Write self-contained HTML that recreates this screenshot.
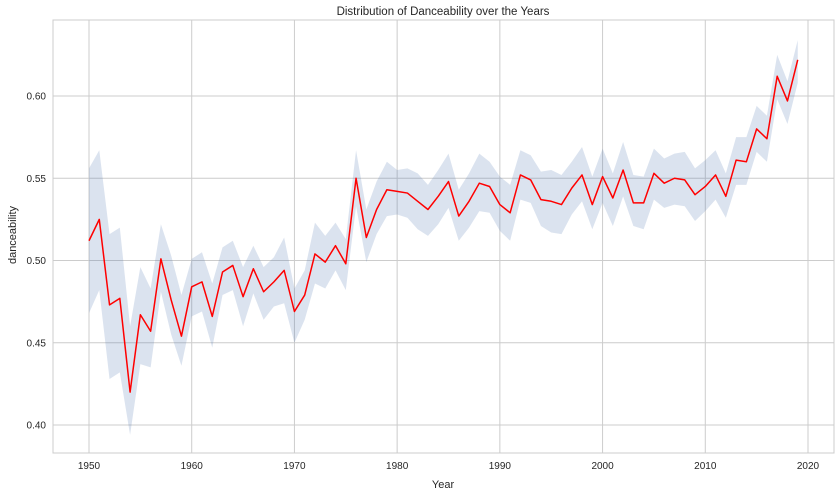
<!DOCTYPE html>
<html><head><meta charset="utf-8"><style>
body{margin:0;background:#fff;font-family:"Liberation Sans",sans-serif}
svg text{font-family:"Liberation Sans",sans-serif;fill:#262626}
</style></head><body>
<svg id="c" width="840" height="496" xmlns="http://www.w3.org/2000/svg">
<text x="443" y="15" font-size="11.5" text-anchor="middle">Distribution of Danceability over the Years</text>
<text x="443" y="488" font-size="11" text-anchor="middle">Year</text>
<text transform="translate(16,235) rotate(-90)" font-size="11" text-anchor="middle">danceability</text>
<g id="grid"></g><g id="band"></g><g id="line"></g><g id="ticks"></g>
<rect x="53" y="20" width="781" height="433" fill="none" stroke="#ccc" stroke-width="1"/>
</svg>
<script>
const years=[];for(let y=1950;y<=2019;y++)years.push(y);
const means=[.512,.525,.473,.477,.420,.467,.457,.501,.476,.454,.484,.487,.466,.493,.497,.478,.495,.481,.487,.494,.469,.479,.504,.499,.509,.498,.550,.514,.531,.543,.542,.541,.536,.531,.539,.548,.527,.536,.547,.545,.534,.529,.552,.549,.537,.536,.534,.544,.552,.534,.551,.538,.555,.535,.535,.553,.547,.550,.549,.540,.545,.552,.539,.561,.560,.580,.574,.612,.597,.622];
const upper=[.556,.567,.516,.520,.460,.496,.483,.522,.503,.479,.501,.505,.486,.508,.512,.496,.509,.496,.502,.514,.483,.494,.523,.515,.523,.513,.567,.531,.548,.560,.555,.556,.553,.546,.555,.565,.543,.553,.565,.560,.551,.546,.567,.564,.554,.555,.552,.560,.569,.551,.568,.553,.572,.552,.551,.568,.562,.565,.566,.556,.561,.567,.553,.575,.575,.594,.588,.625,.609,.634];
const lower=[.468,.482,.428,.432,.394,.437,.435,.481,.455,.436,.466,.469,.447,.479,.482,.460,.480,.464,.472,.474,.450,.464,.486,.483,.494,.482,.533,.499,.516,.527,.528,.526,.519,.515,.522,.532,.512,.520,.530,.529,.518,.512,.537,.535,.521,.517,.516,.528,.536,.519,.535,.521,.539,.521,.519,.537,.532,.534,.533,.524,.530,.537,.526,.546,.546,.566,.560,.598,.583,.608];
const xTicks=[1950,1960,1970,1980,1990,2000,2010,2020];
const yTicks=[0.40,0.45,0.50,0.55,0.60];
const NS='http://www.w3.org/2000/svg';
const X=v=>89+(v-1950)*(808-89)/70;
const Y=v=>425-(v-0.40)*(425-96)/0.20;
function mk(t,a,p){const e=document.createElementNS(NS,t);for(const k in a)e.setAttribute(k,a[k]);document.getElementById(p).appendChild(e);return e;}
xTicks.forEach(t=>{
 const l=mk('line',{x1:X(t),x2:X(t),y1:20,y2:453,stroke:'#ccc','stroke-width':1},'grid');
 
 
 const tx=mk('text',{x:X(t),y:469,'font-size':10,'text-anchor':'middle'},'ticks');tx.textContent=t;
 
 
});
yTicks.forEach(t=>{
 const l=mk('line',{x1:53,x2:834,y1:Y(t),y2:Y(t),stroke:'#ccc','stroke-width':1},'grid');
 
 
 const tx=mk('text',{x:46,y:Y(t)+3.5,'font-size':10,'text-anchor':'end'},'ticks');tx.textContent=t.toFixed(2);
 
 
});
let d='';years.forEach((y,i)=>d+=(i?'L':'M')+X(y)+','+Y(upper[i]));
for(let i=years.length-1;i>=0;i--)d+='L'+X(years[i])+','+Y(lower[i]);
const b=mk('path',{d:d+'Z',fill:'#4c72b0','fill-opacity':0.2,stroke:'none'},'band');


const ln=mk('polyline',{points:years.map((y,i)=>X(y)+','+Y(means[i])).join(' '),fill:'none',stroke:'#ff0000','stroke-width':1.5,'stroke-linejoin':'round'},'line');


</script>
</body></html>
